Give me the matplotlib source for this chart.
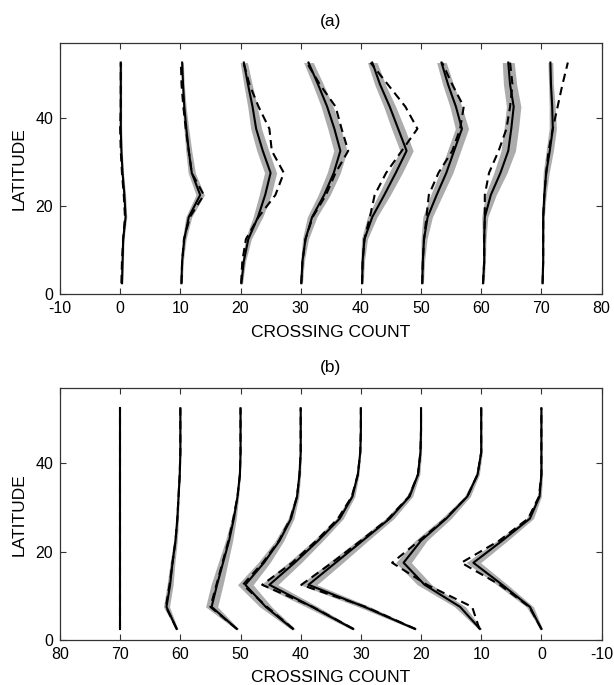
import numpy as np
import matplotlib
matplotlib.use("Agg")
import matplotlib.pyplot as plt

plt.rcParams['font.family'] = ['Liberation Sans', 'DejaVu Sans']
plt.rcParams['axes.unicode_minus'] = False

# latitude grid (degrees)
latitude = [2.5, 7.5, 12.5, 17.5, 22.5, 27.5, 32.5, 37.5, 42.5, 47.5, 52.5]

# ---------------- panel (a) ----------------
a_offsets = [0, 10, 20, 30, 40, 50, 60, 70]
# model mean (relative to offset)
a_mean = [
    [0.3, 0.4, 0.5, 0.9, 0.7, 0.4, 0.2, 0.1, 0.1, 0.1, 0.1],
    [0.17, 0.3, 0.66, 1.4, 3.3, 1.9, 1.4, 1.0, 0.66, 0.45, 0.3],
    [0.15, 0.55, 1.3, 2.9, 4.1, 5.0, 3.7, 2.6, 2.0, 1.25, 0.55],
    [0.1, 0.3, 0.8, 1.9, 3.9, 5.5, 6.6, 5.6, 4.4, 2.9, 1.3],
    [0.2, 0.3, 0.6, 1.9, 3.9, 5.8, 7.6, 6.2, 4.8, 3.2, 1.9],
    [0.2, 0.3, 0.5, 1.1, 2.6, 4.2, 5.5, 6.8, 5.8, 4.5, 3.4],
    [0.3, 0.5, 0.5, 0.6, 1.6, 3.2, 4.5, 5.0, 5.4, 4.8, 4.5],
    [0.2, 0.3, 0.3, 0.3, 0.5, 0.8, 1.4, 1.9, 1.8, 1.6, 1.5],
]
# observed (dashed)
a_obs = [
    [0.2, 0.3, 0.5, 0.8, 0.6, 0.3, 0.1, 0.0, 0.1, 0.1, 0.1],
    [0.2, 0.3, 0.6, 1.6, 3.9, 1.9, 1.4, 0.9, 0.5, 0.2, 0.1],
    [0.1, 0.3, 0.9, 3.0, 5.8, 7.2, 5.2, 4.8, 3.0, 1.5, 0.5],
    [0.1, 0.3, 0.8, 2.0, 4.2, 5.8, 7.9, 6.8, 5.8, 3.2, 1.0],
    [0.2, 0.3, 0.6, 1.5, 2.3, 4.2, 6.8, 9.4, 7.4, 4.5, 1.6],
    [0.2, 0.3, 0.5, 0.9, 1.3, 2.9, 5.2, 6.5, 7.1, 5.2, 3.5],
    [0.3, 0.5, 0.5, 0.6, 0.6, 1.3, 2.9, 4.2, 4.8, 5.2, 4.8],
    [0.2, 0.3, 0.3, 0.3, 0.5, 0.8, 1.2, 1.9, 2.7, 3.5, 4.4],
]
# ensemble spread (half width of grey band)
a_spread = [
    [0.15, 0.15, 0.15, 0.2, 0.2, 0.15, 0.15, 0.15, 0.15, 0.15, 0.15],
    [0.15, 0.2, 0.3, 0.5, 0.7, 0.6, 0.5, 0.4, 0.3, 0.2, 0.2],
    [0.2, 0.3, 0.5, 0.8, 1.0, 1.0, 1.0, 0.9, 0.8, 0.7, 0.6],
    [0.2, 0.3, 0.5, 0.8, 1.0, 1.1, 1.1, 1.1, 1.0, 0.9, 0.8],
    [0.2, 0.3, 0.5, 0.8, 1.0, 1.1, 1.1, 1.1, 1.0, 0.9, 0.8],
    [0.2, 0.3, 0.5, 0.8, 1.0, 1.1, 1.1, 1.1, 1.0, 0.9, 0.8],
    [0.2, 0.2, 0.3, 0.5, 0.9, 1.1, 1.2, 1.2, 1.2, 1.1, 1.0],
    [0.1, 0.1, 0.1, 0.2, 0.3, 0.5, 0.6, 0.6, 0.5, 0.4, 0.4],
]

# ---------------- panel (b) ----------------
b_offsets = [70, 60, 50, 40, 30, 20, 10, 0]
b_mean = [
    [0.0, 0.0, 0.0, 0.0, 0.0, 0.0, 0.0, 0.0, 0.0, 0.0, 0.0],
    [0.6, 2.3, 1.7, 1.3, 0.8, 0.5, 0.3, 0.1, 0.0, 0.0, 0.0],
    [0.6, 4.8, 3.9, 2.9, 1.9, 1.1, 0.5, 0.1, 0.0, 0.0, 0.0],
    [1.3, 5.8, 9.2, 6.1, 3.5, 1.6, 0.6, 0.2, 0.0, 0.0, 0.0],
    [1.3, 8.1, 15.2, 11.0, 7.1, 3.5, 1.4, 0.5, 0.1, 0.0, 0.0],
    [1.0, 9.4, 18.7, 14.2, 9.7, 5.2, 1.9, 0.5, 0.1, 0.0, 0.0],
    [0.2, 3.5, 9.4, 12.9, 10.0, 5.8, 2.3, 0.6, 0.0, 0.0, 0.0],
    [0.0, 1.9, 6.5, 11.3, 6.5, 1.9, 0.3, 0.0, 0.0, 0.0, 0.0],
]
b_obs = [
    [0.0, 0.0, 0.0, 0.0, 0.0, 0.0, 0.0, 0.0, 0.0, 0.0, 0.0],
    [0.6, 2.4, 1.8, 1.3, 0.8, 0.5, 0.3, 0.1, 0.0, 0.0, 0.0],
    [0.6, 5.0, 4.0, 3.0, 2.0, 1.2, 0.5, 0.1, 0.0, 0.0, 0.0],
    [1.2, 5.6, 9.6, 6.3, 3.6, 1.7, 0.6, 0.2, 0.0, 0.0, 0.0],
    [1.2, 8.0, 16.4, 11.4, 7.4, 3.8, 1.5, 0.5, 0.1, 0.0, 0.0],
    [0.9, 9.2, 19.9, 14.8, 10.0, 5.4, 2.0, 0.5, 0.1, 0.0, 0.0],
    [0.3, 1.5, 9.0, 14.8, 10.3, 5.9, 2.3, 0.6, 0.0, 0.0, 0.0],
    [0.0, 2.0, 6.9, 13.3, 7.0, 2.2, 0.4, 0.0, 0.0, 0.0, 0.0],
]
b_spread = [
    [0.1, 0.1, 0.1, 0.1, 0.1, 0.1, 0.1, 0.1, 0.1, 0.1, 0.1],
    [0.2, 0.5, 0.5, 0.4, 0.3, 0.2, 0.1, 0.1, 0.1, 0.1, 0.1],
    [0.3, 1.0, 1.0, 0.8, 0.6, 0.4, 0.2, 0.1, 0.1, 0.1, 0.1],
    [0.4, 1.0, 1.3, 1.0, 0.7, 0.5, 0.3, 0.2, 0.1, 0.1, 0.1],
    [0.4, 1.0, 1.4, 1.1, 0.8, 0.6, 0.4, 0.2, 0.1, 0.1, 0.1],
    [0.4, 1.0, 1.4, 1.2, 0.9, 0.7, 0.5, 0.3, 0.2, 0.1, 0.1],
    [0.3, 0.9, 1.2, 1.3, 1.0, 0.8, 0.5, 0.3, 0.2, 0.1, 0.1],
    [0.2, 0.6, 0.9, 1.2, 0.9, 0.6, 0.3, 0.2, 0.1, 0.1, 0.1],
]

x_ticks = [-10, 0, 10, 20, 30, 40, 50, 60, 70, 80]
y_ticks = [0, 20, 40]

BAND = '#acacac'
FS_TICK = 11.5
FS_LAB = 12.5

fig = plt.figure(figsize=(6.14, 6.85), dpi=100)
ax_a = fig.add_axes([0.0977, 0.5704, 0.8820, 0.3673])
ax_b = fig.add_axes([0.0977, 0.0657, 0.8820, 0.3674])


def draw(ax, offsets, mean, obs, spread, title, reverse):
    lat = np.array(latitude)
    for off, m, o, s in zip(offsets, mean, obs, spread):
        m = off + np.array(m)
        o = off + np.array(o)
        s = np.array(s)
        ax.fill_betweenx(lat, m - s, m + s, color=BAND, lw=0, zorder=1)
        ax.plot(o, lat, color='black', lw=1.5, ls=(0, (4, 2.5)), zorder=2)
        ax.plot(m, lat, color='black', lw=1.5, zorder=3)
    ax.set_xlim(-10, 80)
    if reverse:
        ax.invert_xaxis()
    ax.set_ylim(0, 57)
    ax.set_xticks(x_ticks)
    ax.set_yticks(y_ticks)
    ax.tick_params(direction='in', top=True, right=True, length=4,
                   width=0.8, labelsize=FS_TICK, color='#333333')
    ax.tick_params(axis='x', pad=5)
    ax.tick_params(axis='y', pad=5)
    for sp in ax.spines.values():
        sp.set_linewidth(0.9)
        sp.set_color('#333333')
    ax.set_xlabel('CROSSING COUNT', fontsize=FS_LAB, labelpad=6)
    ax.set_ylabel('LATITUDE', fontsize=FS_LAB, labelpad=6)
    ax.set_title(title, fontsize=FS_LAB, pad=12)


draw(ax_a, a_offsets, a_mean, a_obs, a_spread, '(a)', False)
draw(ax_b, b_offsets, b_mean, b_obs, b_spread, '(b)', True)

fig.savefig('out.png', dpi=100, facecolor='white')
